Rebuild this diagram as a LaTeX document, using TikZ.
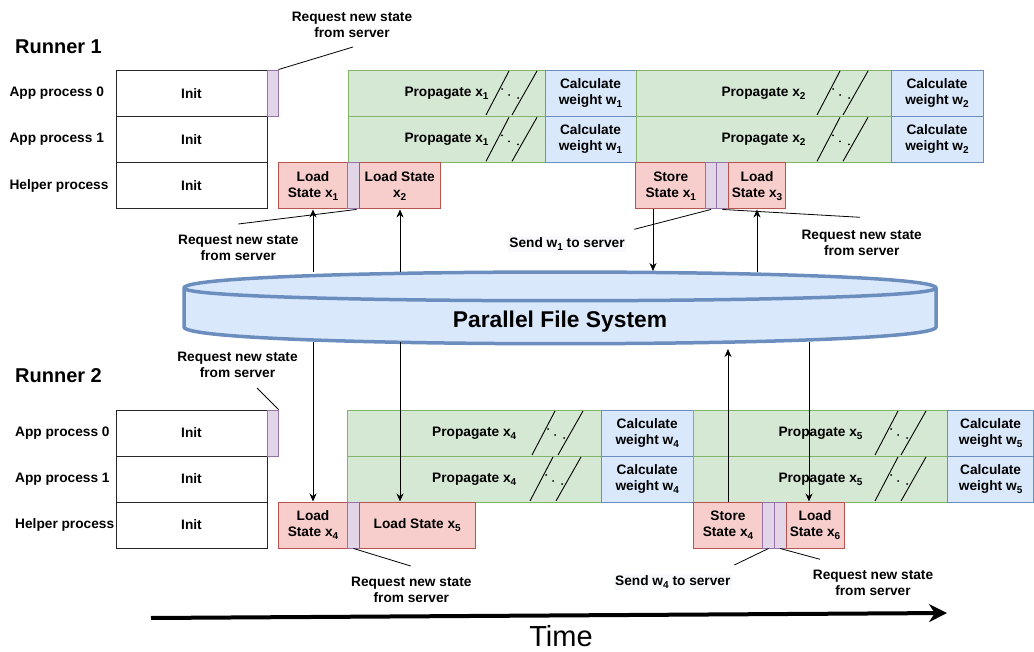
\documentclass[tikz,border=0pt]{standalone}
\usepackage{fontspec}
\setmainfont{Liberation Sans}
\usetikzlibrary{arrows.meta,calc}
\definecolor{gfill}{HTML}{D5E8D4}\definecolor{gline}{HTML}{82B366}
\definecolor{bfill}{HTML}{DAE8FC}\definecolor{bline}{HTML}{6C8EBF}
\definecolor{rfill}{HTML}{F8CECC}\definecolor{rline}{HTML}{B85450}
\definecolor{pfill}{HTML}{E1D5E7}\definecolor{pline}{HTML}{9673A6}
\definecolor{lblbg}{HTML}{F8F9FA}
\newcommand\mysub[1]{\raisebox{-3pt}{\fontsize{10}{10}\selectfont #1}}
\newcommand\brk[2]{%
  \draw[line width=0.9pt] (#1,#2+45) -- (#1+23,#2+1);
  \draw[line width=0.9pt] (#1+26,#2+45) -- (#1+51,#2+1);
  \fill (#1+16,#2+19) circle (1pt);
  \fill (#1+23,#2+25) circle (1pt);
  \fill (#1+32,#2+28) circle (1pt);}
\tikzset{
  lbl/.style={font=\fontsize{13.7}{16}\selectfont\bfseries, align=center, inner sep=0pt},
  base/.style={lbl, draw, line width=1pt},
  initbox/.style={base, draw=black!85, fill=white, minimum width=151pt},
  greenbox/.style={base, draw=gline, fill=gfill},
  bluebox/.style={base, draw=bline, fill=bfill},
  redbox/.style={base, draw=rline, fill=rfill},
  purplebox/.style={base, draw=pline, fill=pfill},
  rowA/.style={minimum height=46.3pt},
  rowB/.style={minimum height=46pt},
  arr/.style={line width=0.9pt, -{Stealth[length=8pt,width=7pt,inset=2.5pt]}},
  callout/.style={line width=0.8pt},
  runner/.style={anchor=west, inner sep=0pt, font=\fontsize{20}{24}\selectfont\bfseries},
  proc/.style={lbl, anchor=west}
}
\begin{document}
\begin{tikzpicture}[x=1pt,y=-1pt]
\useasboundingbox (0,0) rectangle (1034,652);

% ---------------- Runner 1 ----------------
\node[runner] (run1) at (15,47) {Runner 1};
\node[proc] (a10) at (9.3,93.2) {App process 0};
\node[proc] (a11) at (9.3,139.5) {App process 1};
\node[proc] (a1h) at (9.3,185.8) {Helper process};

\node[initbox,rowA] (i1a) at (191.5,93.2) {Init};
\node[initbox,rowA] (i1b) at (191.5,139.5) {Init};
\node[initbox,rowA] (i1c) at (191.5,185.8) {Init};
\node[purplebox,rowA,minimum width=11pt] (q1) at (272.5,93.2) {};

\foreach \y/\n in {93.2/a,139.5/b}{
  \node[greenbox,rowA,minimum width=197pt] (g1\n) at (446.5,\y) {Propagate x\mysub{1}};
  \node[bluebox,rowA,minimum width=91pt] (c1\n) at (590.5,\y) {Calculate\\weight w\mysub{1}};
  \node[greenbox,rowA,minimum width=255pt] (g2\n) at (763.5,\y) {Propagate x\mysub{2}};
  \node[bluebox,rowA,minimum width=92pt] (c2\n) at (937,\y) {Calculate\\weight w\mysub{2}};
}
\brk{486}{70}\brk{486}{116.3}
\brk{817}{70}\brk{817}{116.3}

\node[redbox,rowA,minimum width=69pt] (l1) at (313,185.8) {Load\\State x\mysub{1}};
\node[purplebox,rowA,minimum width=11.6pt] (p1) at (353.5,185.8) {};
\node[redbox,rowA,minimum width=80.7pt] (l2) at (399.7,185.8) {Load State\\x\mysub{2}};
\node[redbox,rowA,minimum width=69.7pt] (s1) at (670.8,185.8) {Store\\State x\mysub{1}};
\node[purplebox,rowA,minimum width=10.6pt] (p2) at (711,185.8) {};
\node[purplebox,rowA,minimum width=12pt] (p3) at (722.3,185.8) {};
\node[redbox,rowA,minimum width=57.4pt] (l3) at (757,185.8) {Load\\State x\mysub{3}};

% callouts runner 1
\node[lbl] (t1) at (352,25) {Request new state\\from server};
\coordinate (t1e) at (353,47);
\draw[callout] (q1.north east) -- (t1e);
\node[lbl] (t2) at (238.3,247.5) {Request new state\\from server};
\coordinate (t2e) at (238.3,224);
\draw[callout] ($(p1.south)+(3,0)$) -- (t2e);
\node[lbl,fill=lblbg,inner sep=1.5pt] (t3) at (567,244) {Send w\mysub{1} to server};
\coordinate (t3e) at (634.3,229.3);
\draw[callout] (p2.south) -- (t3e);
\node[lbl] (t4) at (861.7,242.5) {Request new state\\from server};
\coordinate (t4e) at (860,217.3);
\draw[callout] (p3.south) -- (t4e);

% ---------------- Cylinder ----------------
\draw[draw=bline, fill=bfill, line width=3.5pt]
  (184,288) .. controls (184,266.7) and (936,266.7) .. (936,288)
  -- (936,327) .. controls (936,349.3) and (184,349.3) .. (184,327) -- cycle;
\draw[draw=bline, line width=3.5pt]
  (184,288) .. controls (184,305) and (936,305) .. (936,288);
\node[font=\fontsize{22.8}{26}\selectfont\bfseries, inner sep=0pt] (pfs) at (560,322) {Parallel File System};

% ---------------- Runner 2 ----------------
\node[runner] (run2) at (15,376) {Runner 2};
\node[proc] (a20) at (15,433) {App process 0};
\node[proc] (a21) at (15,479) {App process 1};
\node[proc] (a2h) at (15,525) {Helper process};

\node[initbox,rowB] (i2a) at (191.5,433) {Init};
\node[initbox,rowB] (i2b) at (191.5,479) {Init};
\node[initbox,rowB] (i2c) at (191.5,525) {Init};
\node[purplebox,rowB,minimum width=11pt] (q2) at (272.5,433) {};

\foreach \y/\n in {433/a,479/b}{
  \node[greenbox,rowB,minimum width=253.7pt] (g4\n) at (474.2,\y) {Propagate x\mysub{4}};
  \node[bluebox,rowB,minimum width=92.3pt] (c4\n) at (647.2,\y) {Calculate\\weight w\mysub{4}};
  \node[greenbox,rowB,minimum width=254.4pt] (g5\n) at (820.5,\y) {Propagate x\mysub{5}};
  \node[bluebox,rowB,minimum width=85.8pt] (c5\n) at (990.6,\y) {Calculate\\weight w\mysub{5}};
}
\brk{532}{410}\brk{530}{456}
\brk{875}{410}\brk{875}{456}

\node[redbox,rowB,minimum width=69.4pt] (l4) at (313,525) {Load\\State x\mysub{4}};
\node[purplebox,rowB,minimum width=11.6pt] (p4) at (353.5,525) {};
\node[redbox,rowB,minimum width=115.7pt] (l5) at (417.2,525) {Load State x\mysub{5}};
\node[redbox,rowB,minimum width=69.4pt] (s4) at (728,525) {Store\\State x\mysub{4}};
\node[purplebox,rowB,minimum width=11.6pt] (p5) at (768.5,525) {};
\node[purplebox,rowB,minimum width=11.7pt] (p6) at (780.2,525) {};
\node[redbox,rowB,minimum width=58pt] (l6) at (815,525) {Load\\State x\mysub{6}};

% callouts runner 2
\node[lbl] (t5) at (237.5,365) {Request new state\\from server};
\coordinate (t5e) at (257,388);
\draw[callout] (q2.north east) -- (t5e);
\node[lbl] (t6) at (411.3,590) {Request new state\\from server};
\coordinate (t6e) at (410.7,566);
\draw[callout] (p4.south) -- (t6e);
\node[lbl,fill=lblbg,inner sep=1.5pt] (t7) at (672.8,581.7) {Send w\mysub{4} to server};
\coordinate (t7e) at (734.3,565);
\draw[callout] (p5.south) -- (t7e);
\node[lbl] (t8) at (873,583.3) {Request new state\\from server};
\coordinate (t8e) at (820,559.3);
\draw[callout] (p6.south) -- (t8e);

% ---------------- Arrows to / from the file system ----------------
\coordinate (u1) at (313,272);
\coordinate (u2) at (400,272);
\coordinate (d1) at (653,271);
\coordinate (u3) at (757,272);
\draw[arr] (u1) -- (l1.south);
\draw[arr] (u2) -- (u2 |- l2.south);
\draw[arr] (d1 |- s1.south) -- (d1);
\draw[arr] (u3) -- (l3.south);

\coordinate (d2) at (313,342);
\coordinate (d3) at (400,342);
\coordinate (u4) at (728,349);
\coordinate (d4) at (809,342);
\draw[arr] (d2) -- (l4.north);
\draw[arr] (d3) -- (d3 |- l5.north);
\draw[arr] (s4.north) -- (u4);
\draw[arr] (d4) -- (d4 |- l6.north);

% ---------------- Time axis ----------------
\coordinate (ts) at (151,618);
\coordinate (te) at (947,613);
\draw[line width=4pt, -{Stealth[length=18pt,width=18pt]}] (ts) -- (te);
\node[inner sep=0pt, font=\fontsize{29}{32}\selectfont] (time) at (561,636) {Time};
\end{tikzpicture}
\end{document}
